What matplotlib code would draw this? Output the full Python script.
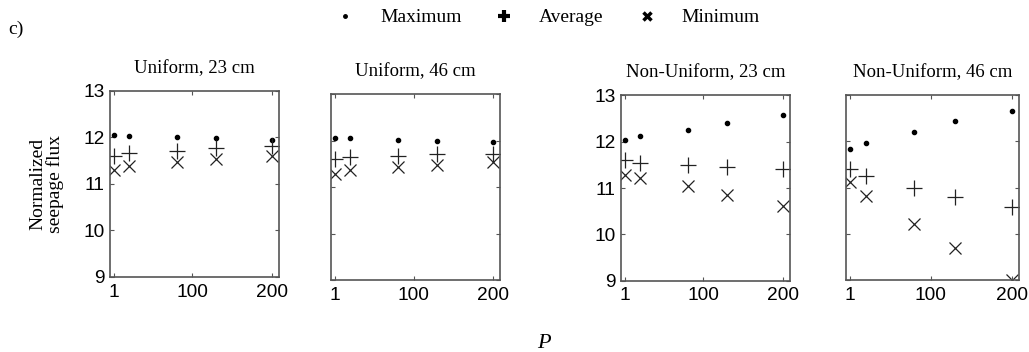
import numpy as np
import matplotlib
matplotlib.use('Agg')
import matplotlib.pyplot as plt
from matplotlib.lines import Line2D

# Data
P = [1, 20, 80, 130, 200]
titles = ['Uniform, 23 cm', 'Uniform, 46 cm', 'Non-Uniform, 23 cm', 'Non-Uniform, 46 cm']

max_flux = [
    [12.05, 12.03, 12.00, 11.98, 11.95],
    [12.06, 12.05, 12.01, 11.99, 11.97],
    [12.04, 12.13, 12.25, 12.40, 12.57],
    [11.83, 11.97, 12.20, 12.43, 12.66],
]
avg_flux = [
    [11.60, 11.65, 11.71, 11.77, 11.81],
    [11.61, 11.65, 11.66, 11.70, 11.72],
    [11.60, 11.55, 11.50, 11.45, 11.42],
    [11.41, 11.25, 11.00, 10.80, 10.58],
]
min_flux = [
    [11.29, 11.38, 11.47, 11.53, 11.60],
    [11.29, 11.36, 11.42, 11.47, 11.54],
    [11.28, 11.21, 11.04, 10.85, 10.61],
    [11.12, 10.81, 10.21, 9.70, 9.01],
]

serif = ['Liberation Serif', 'DejaVu Serif']
sans = ['Liberation Sans', 'DejaVu Sans']
mark_color = '#222222'
spine_color = '#555555'

fig = plt.figure(figsize=(10.29, 3.52), dpi=100)

# axes boxes in figure fractions [left, bottom, width, height]
boxes = [
    [0.1069, 0.2139, 0.1642, 0.5284],
    [0.3217, 0.2045, 0.1642, 0.5284],
    [0.6035, 0.2031, 0.1642, 0.5256],
    [0.8222, 0.2045, 0.1681, 0.5256],
]

for i, box in enumerate(boxes):
    ax = fig.add_axes(box)
    ax.plot(P, max_flux[i], linestyle='none', marker='.', color='black', markersize=6)
    ax.plot(P, avg_flux[i], linestyle='none', marker='+', color=mark_color,
            markersize=12, markeredgewidth=0.9)
    ax.plot(P, min_flux[i], linestyle='none', marker='x', color=mark_color,
            markersize=8, markeredgewidth=0.9)
    ax.set_xlim(-4, 209)
    ax.set_ylim(9, 13)
    ax.set_xticks([1, 100, 200])
    ax.set_yticks([9, 10, 11, 12, 13])
    ax.tick_params(direction='in', length=3, width=0.8, color=spine_color,
                   top=True, right=True, labelsize=13.8)
    ax.tick_params(axis='x', pad=5)
    ax.tick_params(axis='y', pad=4)
    for lab in ax.get_xticklabels() + ax.get_yticklabels():
        lab.set_fontfamily(sans)
    if i in (1, 3):
        ax.set_yticklabels([])
    for s in ax.spines.values():
        s.set_color(spine_color)
        s.set_linewidth(1.2)
    ax.set_title(titles[i], fontfamily=serif, fontsize=13.5, pad=13)
    if i == 0:
        ax.set_ylabel('Normalized\nseepage flux', fontfamily=serif, fontsize=14,
                      labelpad=14, linespacing=0.95)

handles = [
    Line2D([], [], linestyle='none', marker='.', color='black', markersize=5),
    Line2D([], [], linestyle='none', marker='+', color='black', markersize=8, markeredgewidth=3),
    Line2D([], [], linestyle='none', marker='x', color='black', markersize=6, markeredgewidth=2.5),
]
fig.legend(handles, ['Maximum', 'Average', 'Minimum'], loc='upper left',
           bbox_to_anchor=(0.3164, 0.975), ncol=3, frameon=False,
           prop={'family': serif, 'size': 14}, handlelength=2.0,
           handletextpad=0.8, columnspacing=1.2, borderpad=0, borderaxespad=0)

fig.text(0.008, 0.903, 'c)', fontfamily=serif, fontsize=14)
fig.text(0.522, 0.012, 'P', fontfamily=serif, fontstyle='italic', fontsize=16)

fig.savefig('out.png', dpi=100)
